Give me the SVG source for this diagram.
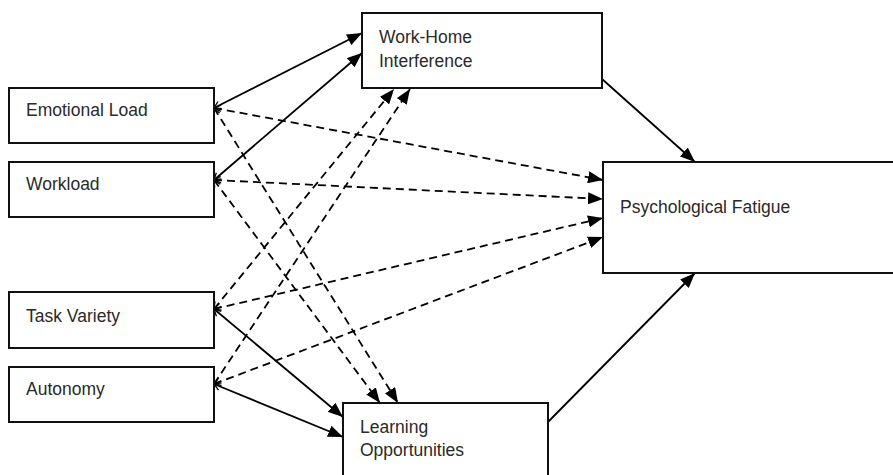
<svg xmlns="http://www.w3.org/2000/svg" width="893" height="475" viewBox="0 0 893 475">
<defs>
<style>
.box{fill:#fff;stroke:#111;stroke-width:2}
.lbl{font-family:"Liberation Sans",Arial,sans-serif;font-size:17.5px;fill:#2a2a2a}
.c{fill:none;stroke:#000;stroke-width:1.8}
.d{stroke-dasharray:8 5}
</style>
<marker id="ah" markerUnits="userSpaceOnUse" markerWidth="16" markerHeight="12" refX="15" refY="6" orient="auto">
<path d="M0,0 L15,6 L0,12 z" fill="#000"/>
</marker>
<marker id="st" markerUnits="userSpaceOnUse" markerWidth="10" markerHeight="12" refX="7.5" refY="5" orient="auto-start-reverse">
<path d="M1,1 L7.5,5 L1,9" fill="none" stroke="#000" stroke-width="1.3"/>
</marker>
</defs>
<rect width="893" height="475" fill="#fff"/>
<g id="connectors">
<line class="c" x1="214" y1="108" x2="362" y2="33" marker-start="url(#st)" marker-end="url(#ah)"/>
<line class="c" x1="214" y1="180" x2="362" y2="53" marker-start="url(#st)" marker-end="url(#ah)"/>
<line class="c d" x1="214" y1="108" x2="603" y2="180" marker-start="url(#st)" marker-end="url(#ah)"/>
<line class="c d" x1="214" y1="180" x2="603" y2="199" marker-start="url(#st)" marker-end="url(#ah)"/>
<line class="c d" x1="214" y1="309" x2="603" y2="218" marker-start="url(#st)" marker-end="url(#ah)"/>
<line class="c d" x1="214" y1="384" x2="603" y2="237" marker-start="url(#st)" marker-end="url(#ah)"/>
<line class="c d" x1="214" y1="108" x2="398" y2="403" marker-start="url(#st)" marker-end="url(#ah)"/>
<line class="c d" x1="214" y1="180" x2="380" y2="403" marker-start="url(#st)" marker-end="url(#ah)"/>
<line class="c d" x1="214" y1="309" x2="394" y2="89" marker-start="url(#st)" marker-end="url(#ah)"/>
<line class="c d" x1="214" y1="384" x2="410" y2="89" marker-start="url(#st)" marker-end="url(#ah)"/>
<line class="c" x1="214" y1="309" x2="343" y2="417" marker-start="url(#st)" marker-end="url(#ah)"/>
<line class="c" x1="214" y1="384" x2="343" y2="437" marker-start="url(#st)" marker-end="url(#ah)"/>
<line class="c" x1="602" y1="79" x2="695" y2="162" marker-end="url(#ah)"/>
<line class="c" x1="548" y1="422" x2="695" y2="273" marker-end="url(#ah)"/>
</g>
<g id="emotional-load"><rect class="box" x="9" y="88" width="205" height="55"/><text class="lbl" x="26" y="116">Emotional Load</text></g>
<g id="workload"><rect class="box" x="9" y="162" width="205" height="55"/><text class="lbl" x="26" y="190">Workload</text></g>
<g id="task-variety"><rect class="box" x="9" y="292" width="205" height="56"/><text class="lbl" x="26" y="322">Task Variety</text></g>
<g id="autonomy"><rect class="box" x="9" y="367" width="205" height="55"/><text class="lbl" x="26" y="395">Autonomy</text></g>
<g id="work-home-interference"><rect class="box" x="362" y="13" width="240" height="75"/><text class="lbl" x="379" y="43">Work-Home</text><text class="lbl" x="379" y="67">Interference</text></g>
<g id="learning-opportunities"><rect class="box" x="343" y="403" width="205" height="80"/><text class="lbl" x="360" y="433">Learning</text><text class="lbl" x="360" y="456">Opportunities</text></g>
<g id="psychological-fatigue"><rect class="box" x="603" y="162" width="300" height="111"/><text class="lbl" x="620" y="213">Psychological Fatigue</text></g>
</svg>
